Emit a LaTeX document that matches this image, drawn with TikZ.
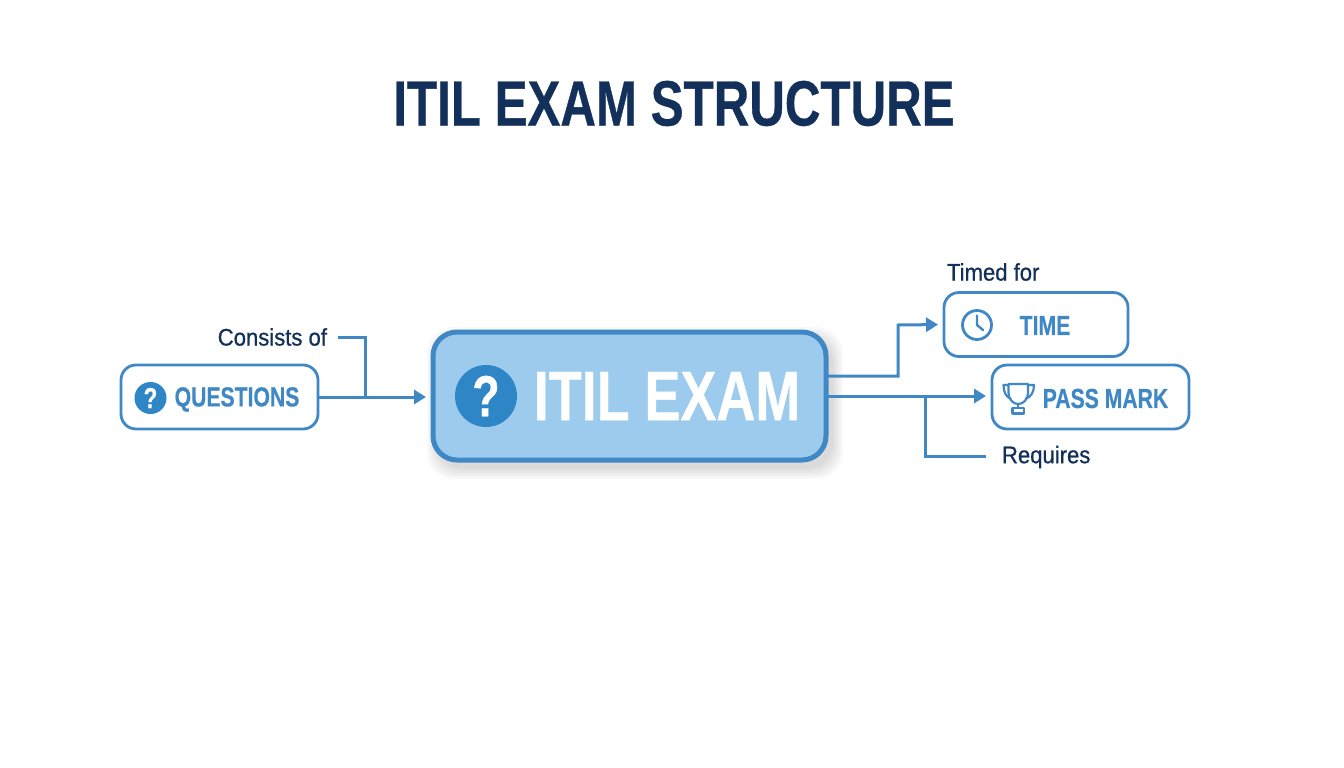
\documentclass[tikz,border=0pt]{standalone}
\usepackage{fontspec}
\usetikzlibrary{arrows.meta}
\setmainfont{Liberation Sans}
\newfontfamily\headf[FakeStretch=0.77,FakeBold=0.5]{Liberation Sans}
\newfontfamily\labelf[FakeStretch=0.92,FakeBold=0.7]{Liberation Sans}
\definecolor{navy}{HTML}{12305A}
\definecolor{blueline}{HTML}{3F88C5}
\definecolor{bluefill}{HTML}{9DCBEE}
\definecolor{blueicon}{HTML}{2F86C6}
\tikzset{
  every node/.style={inner sep=0pt,outer sep=0pt},
  boxnode/.style={draw=blueline,line width=2.8pt,rounded corners=15pt,fill=white,minimum height=64pt},
  mainbox/.style={draw=blueline,line width=5pt,rounded corners=24pt,fill=bluefill,minimum width=393pt,minimum height=128pt},
  boxtext/.style={text=blueline,font=\headf\bfseries\fontsize{27.5}{28}\selectfont,anchor=center},
  lab/.style={text=navy,font=\labelf\fontsize{24}{24}\selectfont},
  conn/.style={draw=blueline,line width=3pt,line join=miter},
  arrowconn/.style={conn,-{Triangle[length=12pt,width=14pt]}},
  qicon/.style={circle,fill=blueicon,text=white,font=\headf\bfseries}
}
\begin{document}
\begin{tikzpicture}[x=1pt,y=-1pt]
\useasboundingbox (0,0) rectangle (1344,768);
\fill[white] (0,0) rectangle (1344,768);
% title
\node[text=navy,font=\headf\bfseries\fontsize{64}{64}\selectfont] (title) at (674,103.5) {ITIL EXAM STRUCTURE};
% soft shadow
\foreach \g in {10,8,6,4,2,0}{
  \fill[black,opacity=0.022,rounded corners=26pt] (431-\g+6,330-\g+7) rectangle (828+\g+5,462+\g+7);
}
% boxes
\node[mainbox] (main) at (629.5,396) {};
\node[boxnode,minimum width=197pt] (questions) at (219.5,397) {};
\node[boxnode,minimum width=184pt] (time) at (1036,324.5) {};
\node[boxnode,minimum width=197pt] (pass) at (1090.5,397) {};
% box texts
\node[qicon,minimum size=62pt,font=\headf\bfseries\fontsize{58}{58}\selectfont] (mainq) at (486,396) {?};
\node[text=white,font=\headf\bfseries\fontsize{70}{70}\selectfont] (maint) at (667,396) {ITIL EXAM};
\node[qicon,minimum size=32pt,font=\headf\bfseries\fontsize{29}{29}\selectfont] (qq) at (150.5,398) {?};
\node[boxtext] (qt) at (237,399.5) {QUESTIONS};
\node[boxtext] (tt) at (1045,325.5) {TIME};
\node[boxtext] (pt) at (1105.5,398.5) {PASS MARK};
% clock icon
\node[circle,draw=blueline,line width=2.8pt,minimum size=29pt] (clock) at (977,325) {};
\draw[blueline,line width=2.4pt,line join=round,line cap=round] (977,315.5) -- (clock.center) -- (983,330);
% trophy icon
\coordinate (cup) at (1018,398);
\draw[blueline,line width=2.2pt,line join=round]
  (1008.5,384) -- (1028,384) -- (1028,392) .. controls (1028,400) and (1023,404) .. (1018.2,404)
  .. controls (1013.5,404) and (1008.5,400) .. (1008.5,392) -- cycle;
\draw[blueline,line width=2.2pt,line join=round]
  (1008.5,385) -- (1003.5,385) .. controls (1003.5,392) and (1006,397) .. (1011,399);
\draw[blueline,line width=2.2pt,line join=round]
  (1028,385) -- (1034,385) .. controls (1034,392) and (1031,397) .. (1025.5,399);
\draw[blueline,line width=2.2pt] (1018.2,404) -- (1018.2,408);
\draw[blueline,line width=2.2pt,line join=round] (1012.5,408) rectangle (1024,413.5);
% labels
\node[lab,anchor=east] (consists) at (327,337) {Consists of};
\node[lab,anchor=west] (timed) at (947,272) {Timed for};
\node[lab,anchor=west] (requires) at (1002,457) {Requires};
% connectors
\coordinate (consEnd) at (338,337);
\coordinate (reqEnd) at (986,456);
\coordinate (mainup) at ([yshift=20pt]main.east);
\coordinate (mainmid) at (main.east);
\coordinate (consJoin) at (365,397);
\coordinate (reqJoin) at (925,396);
\draw[arrowconn,shorten >=7pt] (questions.east) -- (questions.east -| main.west);
\draw[conn] (consEnd) -| (consJoin);
\draw[arrowconn,shorten >=6pt] (mainup) -- (898,376) -- (898,325) -- (time.west);
\draw[arrowconn,shorten >=6pt] (mainmid) -- (mainmid -| pass.west);
\draw[conn] (reqJoin) |- (reqEnd);
\end{tikzpicture}
\end{document}
